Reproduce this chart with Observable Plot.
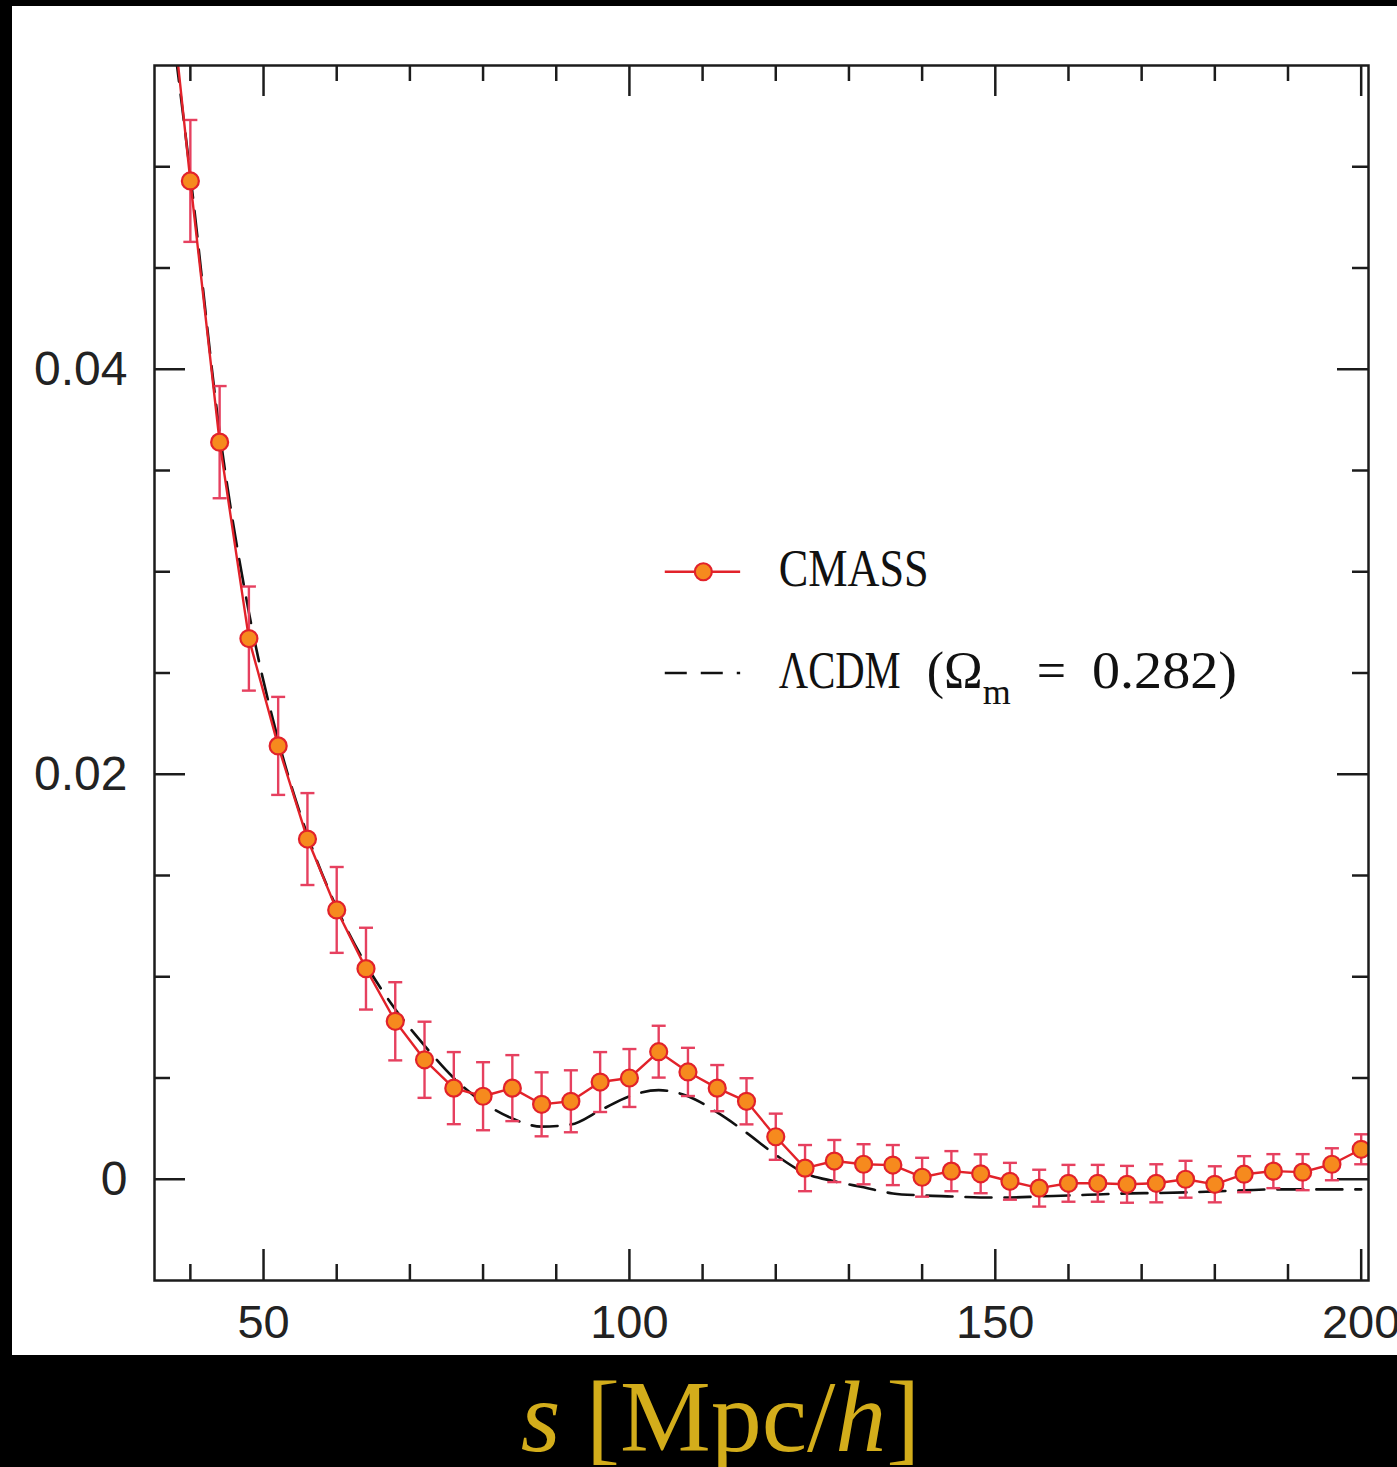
<!DOCTYPE html>
<html>
<head>
<meta charset="utf-8">
<script src="https://cdn.jsdelivr.net/npm/d3@7"></script>
<script src="https://cdn.jsdelivr.net/npm/@observablehq/plot@0.6"></script>
<style>
  html, body { margin: 0; padding: 0; background: #000; }
  #wrap { position: relative; width: 1397px; height: 1467px; overflow: hidden; background: #000; }
  #chart { position: absolute; left: 12px; top: 6px; }
  #xlabel {
    position: absolute; left: 22px; top: 1369px; width: 1397px; height: 96px;
    text-align: center; color: #d3ad1b;
    font-family: "Liberation Serif", "DejaVu Serif", serif;
    font-size: 102px; line-height: 96px; white-space: nowrap;
  }
  #xlabel i { font-style: italic; }
</style>
</head>
<body>
<div id="wrap">
  <div id="chart"></div>
  <div id="xlabel"><i>s</i> [Mpc/<i>h</i>]</div>
</div>
<script>
// Redshift-space correlation function of the CMASS sample, s in Mpc/h
const separation = [36, 40, 44, 48, 52, 56, 60, 64, 68, 72, 76, 80, 84, 88, 92, 96, 100,
  104, 108, 112, 116, 120, 124, 128, 132, 136, 140, 144, 148, 152, 156, 160, 164, 168,
  172, 176, 180, 184, 188, 192, 196, 200];
const xiCmass = [0.0630, 0.0493, 0.0364, 0.0267, 0.0214, 0.0168, 0.0133, 0.0104, 0.0078,
  0.0059, 0.0045, 0.0041, 0.0045, 0.0037, 0.00385, 0.0048, 0.0050, 0.0063, 0.0053, 0.0045,
  0.00385, 0.0021, 0.00055, 0.0009, 0.00074, 0.0007, 0.0001, 0.0004, 0.00027, -0.0001,
  -0.00044, -0.0002, -0.0002, -0.00025, -0.0002, 0.0, -0.00025, 0.00025, 0.0004, 0.00035,
  0.00074, 0.00148];
const xiError = [0.00316, 0.00301, 0.00277, 0.00257, 0.00242, 0.00227, 0.00212, 0.00202,
  0.00193, 0.00188, 0.00178, 0.00168, 0.00163, 0.00158, 0.00153, 0.00148, 0.00143, 0.00128,
  0.00119, 0.00114, 0.00114, 0.00114, 0.00114, 0.00104, 0.00099, 0.00099, 0.00096, 0.00099,
  0.00096, 0.00091, 0.00091, 0.00091, 0.00091, 0.00091, 0.00094, 0.00091, 0.00089, 0.00089,
  0.00084, 0.00089, 0.00079, 0.00074];

// LambdaCDM prediction (Omega_m = 0.282)
const modelSeparation = [36, 40, 44, 48, 52, 56, 60, 64, 68, 72, 76, 80, 84, 88, 92, 96, 100,
  104, 108, 112, 116, 120, 124, 128, 132, 136, 140, 144, 148, 152, 156, 160, 164, 168, 172,
  176, 180, 184, 188, 192, 196, 200];
const xiModel = [0.0612, 0.0496, 0.0369, 0.0280, 0.0217, 0.0170, 0.0134, 0.0106, 0.0084,
  0.0066, 0.0050, 0.0038, 0.0030, 0.0026, 0.0027, 0.0034, 0.0041, 0.0044, 0.0041, 0.0033,
  0.0023, 0.0012, 0.0003, -0.0001, -0.0004, -0.0007, -0.0008, -0.00085, -0.0009, -0.0009,
  -0.00085, -0.0008, -0.00075, -0.0007, -0.00068, -0.00065, -0.0006, -0.00055, -0.0005,
  -0.0005, -0.0005, -0.0005];

// Axis ticks
const xMajorTicks = [50, 100, 150, 200];
const xMinorTicks = [40, 60, 70, 80, 90, 110, 120, 130, 140, 160, 170, 180, 190];
const yMajorTicks = [0, 0.02, 0.04];
const yMinorTicks = [0.005, 0.01, 0.015, 0.025, 0.03, 0.035, 0.045, 0.05];

const legendCmass = "CMASS";
const legendModel = "ΛCDM (Ωm = 0.282)";

const cmass = separation.map((s, i) => ({s, xi: xiCmass[i], err: xiError[i]}));
const model = modelSeparation.map((s, i) => ({s, xi: xiModel[i]}));

const width = 1385, height = 1349;
const margin = {top: 59, right: 29, bottom: 75, left: 142};
const innerW = width - margin.left - margin.right;
const innerH = height - margin.top - margin.bottom;

const ink = "#1c1c1c";
const lineRed = "#e2222a";
const dotFill = "#f68a1e";
const errColor = "#e6405f";
const majorLen = 31, minorLen = 16;

// horizontal bar used for the error-bar caps
const capSymbol = {
  draw(context, size) {
    const r = Math.sqrt(size / Math.PI);
    context.moveTo(-r, 0);
    context.lineTo(r, 0);
  }
};

const tickStyle = {stroke: ink, strokeWidth: 2.5};
const serif = "Liberation Serif, DejaVu Serif, serif";
const sans = "Liberation Sans, Arial, Helvetica, sans-serif";

const svg = Plot.plot({
  width, height,
  marginTop: margin.top, marginRight: margin.right,
  marginBottom: margin.bottom, marginLeft: margin.left,
  x: {domain: [35.1, 201], label: null},
  y: {domain: [-0.005, 0.055], label: null},
  style: {background: "#fff", fontFamily: sans, color: ink},
  marks: [
    // frame ticks, pointing inward on all four sides
    Plot.tickX(xMajorTicks, {x: d => d, insetTop: innerH - majorLen, ...tickStyle}),
    Plot.tickX(xMinorTicks, {x: d => d, insetTop: innerH - minorLen, ...tickStyle}),
    Plot.tickX(xMajorTicks, {x: d => d, insetBottom: innerH - majorLen, ...tickStyle}),
    Plot.tickX(xMinorTicks, {x: d => d, insetBottom: innerH - minorLen, ...tickStyle}),
    Plot.tickY(yMajorTicks, {y: d => d, insetRight: innerW - majorLen, ...tickStyle}),
    Plot.tickY(yMinorTicks, {y: d => d, insetRight: innerW - minorLen, ...tickStyle}),
    Plot.tickY(yMajorTicks, {y: d => d, insetLeft: innerW - majorLen, ...tickStyle}),
    Plot.tickY(yMinorTicks, {y: d => d, insetLeft: innerW - minorLen, ...tickStyle}),

    Plot.axisX({ticks: xMajorTicks, anchor: "bottom", tickSize: 0, tickPadding: 24,
      fontSize: 47, fontFamily: sans, fill: "#222", label: null, tickFormat: d => String(d)}),
    Plot.axisY({ticks: yMajorTicks, anchor: "left", tickSize: 0, tickPadding: 27,
      fontSize: 48, fontFamily: sans, fill: "#222", label: null, tickFormat: d => String(d)}),

    // model curve
    Plot.line(model, {x: "s", y: "xi", curve: "monotone-x", stroke: "#111",
      strokeWidth: 2.6, strokeDasharray: "26,13", clip: true}),

    // measurements with 1-sigma errors
    Plot.ruleX(cmass, {x: "s", y1: d => d.xi - d.err, y2: d => d.xi + d.err,
      stroke: errColor, strokeWidth: 2.4, clip: true}),
    Plot.dot(cmass, {x: "s", y: d => d.xi - d.err, symbol: capSymbol, r: 7,
      fill: "none", stroke: errColor, strokeWidth: 2.4, clip: true}),
    Plot.dot(cmass, {x: "s", y: d => d.xi + d.err, symbol: capSymbol, r: 7,
      fill: "none", stroke: errColor, strokeWidth: 2.4, clip: true}),
    Plot.line(cmass, {x: "s", y: "xi", stroke: lineRed, strokeWidth: 2.4, clip: true}),
    Plot.dot(cmass, {x: "s", y: "xi", r: 8.5, fill: dotFill, stroke: lineRed,
      strokeWidth: 2.2, clip: true}),

    // legend
    Plot.ruleY([0.0300], {x1: 104.9, x2: 115.2, stroke: lineRed, strokeWidth: 2.4}),
    Plot.dot([{s: 110.1, xi: 0.0300}], {x: "s", y: "xi", r: 8.5, fill: dotFill,
      stroke: lineRed, strokeWidth: 2.2}),
    Plot.ruleY([0.0250], {x1: 104.9, x2: 115.2, stroke: "#111", strokeWidth: 2.6,
      strokeDasharray: "22,14"}),
    Plot.text([legendCmass], {x: 120.4, y: 0.0301, text: d => d, textAnchor: "start",
      lineAnchor: "middle", fontFamily: serif, fontSize: 52, fill: "#111",
      className: "legend-cmass"}),
    Plot.text([legendModel], {x: 120.4, y: 0.0251, text: d => d, textAnchor: "start",
      lineAnchor: "middle", fontFamily: serif, fontSize: 52, fill: "#111",
      className: "legend-model"}),

    Plot.frame({stroke: ink, strokeWidth: 2.5})
  ]
});

// legend typesetting: narrow serif face and a subscript on Omega
const root = d3.select(svg);
root.select("g.legend-cmass text")
  .attr("textLength", 150).attr("lengthAdjust", "spacingAndGlyphs");
const modelText = root.select("g.legend-model text");
modelText.text(null);
modelText.append("tspan").attr("textLength", 122).attr("lengthAdjust", "spacingAndGlyphs").text("ΛCDM");
modelText.append("tspan").text("\u00A0\u00A0(Ω");
modelText.append("tspan").attr("font-size", 36).attr("dy", 16).text("m");
modelText.append("tspan").attr("dy", -16).text("\u00A0\u00A0=\u00A0\u00A0");
modelText.append("tspan").attr("textLength", 145).attr("lengthAdjust", "spacingAndGlyphs").text("0.282)");

document.getElementById("chart").appendChild(svg);
</script>
</body>
</html>
